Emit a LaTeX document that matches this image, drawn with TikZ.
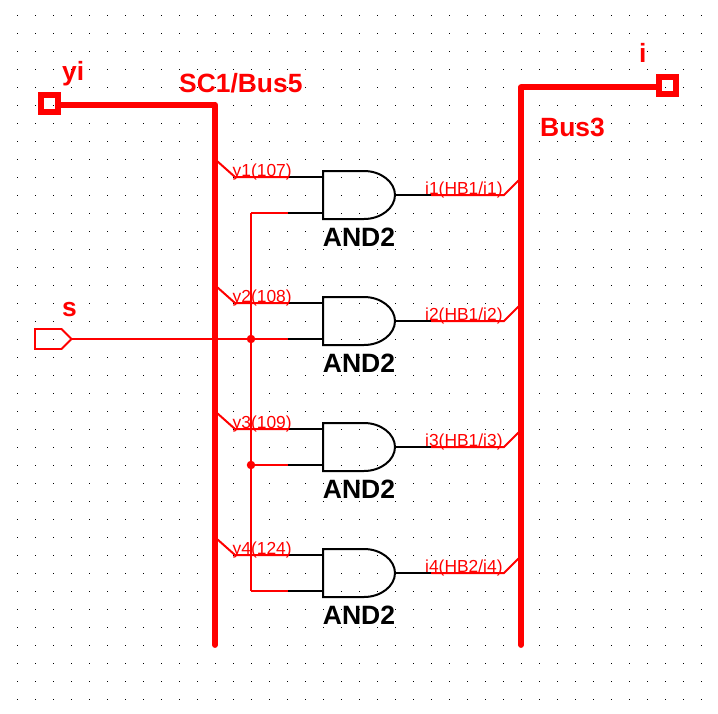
\documentclass[tikz,border=0pt]{standalone}
\usepackage{fontspec}
\setmainfont{Liberation Sans}
\definecolor{busred}{RGB}{255,0,0}
\tikzset{
  griddot/.style={fill=black,draw=none},
  bus/.style={draw=busred,line width=5.8pt,line cap=round,line join=round},
  portbox/.style={draw=busred,line width=5.8pt,minimum size=17.2pt,inner sep=0pt,outer sep=0pt},
  wire/.style={draw=busred,line width=2pt},
  pin/.style={draw=black,line width=2pt},
  gatebody/.style={draw=black,line width=2pt,fill=none},
  junction/.style={circle,fill=busred,minimum size=8.5pt,inner sep=0pt},
  buslabel/.style={text=busred,font=\bfseries\fontsize{26.4}{28}\selectfont,inner sep=0pt,anchor=base west},
  gatelabel/.style={text=black,font=\bfseries\fontsize{26.5}{28}\selectfont,inner sep=0pt,anchor=base},
  siglabel/.style={text=busred,font=\fontsize{17.4}{19}\selectfont,inner sep=0pt,anchor=base west},
}
\begin{document}
\begin{tikzpicture}[x=1pt,y=-1pt]
\useasboundingbox (0,0) rectangle (718,713);
\fill[white] (0,0) rectangle (718,713);
% grid
\foreach \gx in {17,35,...,701} \foreach \gy in {15,33,...,699}
  \fill[griddot] (\gx,\gy) rectangle +(1,1);
% ports and buses
\node[portbox] (yi) at (49.5,103.5) {};
\node[portbox] (ip) at (667.5,85.5) {};
\coordinate (bL) at (215,104.8);
\coordinate (bLend) at (215,645);
\coordinate (bR) at (521,87);
\coordinate (bRend) at (521,645);
\draw[bus,line cap=butt] (yi.east |- bL) -- (bL);
\draw[bus,line cap=butt] (ip.west |- bR) -- (bR);
\draw[bus] (bL) -- (bLend);
\draw[bus] (bR) -- (bRend);
% select input
\draw[draw=busred,line width=1.8pt,line join=miter] (35,329) -- (61.5,329) -- (71.5,339) -- (61.5,349) -- (35,349) -- cycle;
\coordinate (sTip) at (71.5,339);
% common select rail
\coordinate (railTop) at (251,213);
\coordinate (railBot) at (251,591);
\draw[wire] (railTop) -- (railBot);
% gates
\foreach \n/\oy/\lab/\olab in {1/0/y1(107)/{i1(HB1/i1)},2/126/y2(108)/{i2(HB1/i2)},3/252/y3(109)/{i3(HB1/i3)},4/378/y4(124)/{i4(HB2/i4)}} {
  \coordinate (a\n) at (323,177+\oy);
  \coordinate (b\n) at (323,213+\oy);
  \coordinate (o\n) at (395,195+\oy);
  \draw[gatebody] (323,171+\oy) -- (364,171+\oy)
     .. controls (381,171+\oy) and (395,182+\oy) .. (o\n)
     .. controls (395,208+\oy) and (381,219+\oy) .. (364,219+\oy)
     -- (323,219+\oy) -- cycle;
  \draw[pin] (288,177+\oy) -- (a\n);
  \draw[pin] (288,213+\oy) -- (b\n);
  \draw[pin] (o\n) -- (431,195+\oy);
  \draw[wire] (217,161+\oy) -- (235,177+\oy) -- (288,177+\oy);
  \draw[wire] (431,195+\oy) -- (504,195+\oy) -- (518.5,180.5+\oy);
  \node[gatelabel] (g\n) at (359,246+\oy) {AND2};
  \node[siglabel] (y\n) at (232.5,176.5+\oy) {\lab};
  \node[siglabel] (i\n) at (425,194+\oy) {\olab};
}
% select connections
\draw[wire] (railTop) -- (288,213);
\draw[wire] (sTip) -- (288,339);
\draw[wire] (251,465) -- (288,465);
\draw[wire] (railBot) -- (288,591);
\node[junction] (j1) at (251,339) {};
\node[junction] (j2) at (251,465) {};
% labels
\node[buslabel] (lyi) at (62,80) {yi};
\node[buslabel] (lsc) at (179,92) {SC1/Bus5};
\node[buslabel] (lb3) at (540,136) {Bus3};
\node[buslabel] (li) at (639,62) {i};
\node[buslabel] (ls) at (62,316) {s};
\end{tikzpicture}
\end{document}
